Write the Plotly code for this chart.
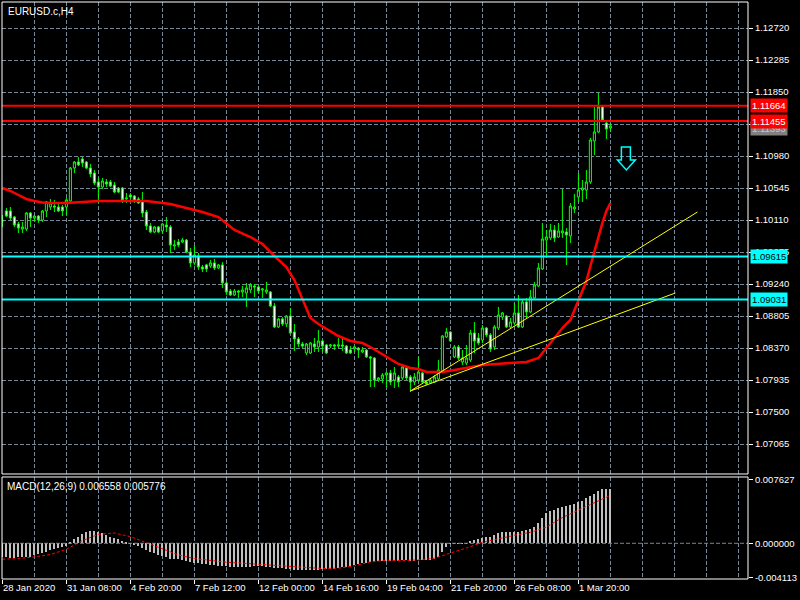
import plotly.graph_objects as go

symbol_title = "EURUSD.c,H4"
macd_title = "MACD(12,26,9) 0.006558 0.005776"

time_labels = ["28 Jan 2020", "31 Jan 08:00", "4 Feb 20:00", "7 Feb 12:00", "12 Feb 00:00",
               "14 Feb 16:00", "19 Feb 04:00", "21 Feb 20:00", "26 Feb 08:00", "1 Mar 20:00"]
label_bars = [0, 16, 32, 48, 64, 80, 96, 112, 128, 144]

price_ticks = [1.12720, 1.12285, 1.11850, 1.11415, 1.10980, 1.10545, 1.10110, 1.09675,
               1.09240, 1.08805, 1.08370, 1.07935, 1.07500, 1.07065]

opens = [
    1.10110, 1.10233, 1.10233, 1.10151, 1.10056, 1.09988, 1.09988, 1.10205, 1.10137, 1.10164,
    1.10110, 1.10233, 1.10287, 1.10300, 1.10287, 1.10287, 1.10287, 1.10369, 1.10817, 1.10899,
    1.10940, 1.10899, 1.10817, 1.10749, 1.10627, 1.10559, 1.10627, 1.10627, 1.10586, 1.10545,
    1.10545, 1.10396, 1.10450, 1.10436, 1.10396, 1.10369, 1.10219, 1.10029, 1.09947, 1.10015,
    1.09961, 1.10042, 1.10015, 1.09757, 1.09811, 1.09811, 1.09838, 1.09675, 1.09526, 1.09621,
    1.09471, 1.09499, 1.09485, 1.09526, 1.09458, 1.09499, 1.09254, 1.09145, 1.09091, 1.09145,
    1.09132, 1.09118, 1.09159, 1.09213, 1.09200, 1.09159, 1.09132, 1.09132, 1.08941, 1.08656,
    1.08765, 1.08697, 1.08805, 1.08588, 1.08493, 1.08425, 1.08302, 1.08302, 1.08425, 1.08384,
    1.08465, 1.08411, 1.08397, 1.08411, 1.08397, 1.08411, 1.08397, 1.08343, 1.08357, 1.08370,
    1.08316, 1.08343, 1.08248, 1.08234, 1.07935, 1.07949, 1.08003, 1.08030, 1.07935, 1.07976,
    1.07963, 1.08098, 1.07976, 1.07908, 1.07935, 1.08030, 1.07908, 1.07895, 1.07908, 1.07949,
    1.08058, 1.08520, 1.08588, 1.08248, 1.08384, 1.08180, 1.08166, 1.08207, 1.08574, 1.08506,
    1.08479, 1.08642, 1.08547, 1.08384, 1.08642, 1.08792, 1.08805, 1.08656, 1.08710, 1.08846,
    1.08656, 1.08996, 1.08860, 1.09050, 1.09213, 1.09444, 1.09838, 1.09866, 1.09974, 1.09879,
    1.09934, 1.09947, 1.09893, 1.10260, 1.10423, 1.10518, 1.10518, 1.10627, 1.11184, 1.11307,
    1.11646, 1.11429, 1.11361]

highs = [
    1.10178, 1.10273, 1.10287, 1.10164, 1.10083, 1.10083, 1.10219, 1.10219, 1.10178, 1.10178,
    1.10246, 1.10369, 1.10396, 1.10382, 1.10328, 1.10314, 1.10409, 1.10831, 1.10912, 1.10967,
    1.10967, 1.10912, 1.10872, 1.10790, 1.10681, 1.10681, 1.10668, 1.10654, 1.10627, 1.10559,
    1.10559, 1.10477, 1.10477, 1.10450, 1.10423, 1.10491, 1.10246, 1.10070, 1.10029, 1.10029,
    1.10070, 1.10151, 1.10042, 1.09838, 1.09852, 1.09866, 1.09852, 1.09730, 1.09770, 1.09662,
    1.09499, 1.09512, 1.09567, 1.09580, 1.09512, 1.09539, 1.09268, 1.09172, 1.09172, 1.09159,
    1.09213, 1.09254, 1.09254, 1.09240, 1.09213, 1.09186, 1.09268, 1.09145, 1.08982, 1.08778,
    1.08792, 1.08819, 1.08914, 1.08697, 1.08520, 1.08452, 1.08438, 1.08452, 1.08506, 1.08615,
    1.08479, 1.08425, 1.08425, 1.08425, 1.08506, 1.08493, 1.08411, 1.08397, 1.08397, 1.08384,
    1.08384, 1.08357, 1.08262, 1.08248, 1.07976, 1.08030, 1.08044, 1.08071, 1.08112, 1.08003,
    1.08126, 1.08126, 1.08003, 1.08030, 1.08248, 1.08071, 1.07935, 1.07963, 1.08003, 1.08207,
    1.08547, 1.08642, 1.08601, 1.08411, 1.08411, 1.08343, 1.08411, 1.08615, 1.08724, 1.08574,
    1.08683, 1.08656, 1.08574, 1.08683, 1.08928, 1.08860, 1.08819, 1.08778, 1.08982, 1.09091,
    1.09023, 1.09050, 1.09159, 1.09268, 1.09526, 1.10070, 1.09974, 1.10056, 1.10042, 1.10070,
    1.10532, 1.10001, 1.10341, 1.10464, 1.10749, 1.10654, 1.10790, 1.11225, 1.11646, 1.11837,
    1.11674, 1.11457, 1.11429]

lows = [
    1.10015, 1.10151, 1.10110, 1.10015, 1.09934, 1.09934, 1.09961, 1.10015, 1.10097, 1.10070,
    1.10083, 1.10151, 1.10246, 1.10219, 1.10219, 1.10164, 1.10178, 1.10355, 1.10749, 1.10844,
    1.10831, 1.10804, 1.10695, 1.10586, 1.10341, 1.10532, 1.10559, 1.10559, 1.10477, 1.10477,
    1.10341, 1.10341, 1.10382, 1.10341, 1.10328, 1.10151, 1.09974, 1.09934, 1.09934, 1.09934,
    1.09934, 1.09947, 1.09662, 1.09703, 1.09743, 1.09798, 1.09662, 1.09471, 1.09499, 1.09431,
    1.09403, 1.09403, 1.09458, 1.09431, 1.09444, 1.09186, 1.09091, 1.09077, 1.09077, 1.09050,
    1.09064, 1.08928, 1.09118, 1.09064, 1.09118, 1.09050, 1.09104, 1.08928, 1.08642, 1.08642,
    1.08669, 1.08656, 1.08561, 1.08330, 1.08384, 1.08370, 1.08275, 1.08289, 1.08316, 1.08316,
    1.08316, 1.08289, 1.08370, 1.08343, 1.08370, 1.08330, 1.08289, 1.08289, 1.08316, 1.08234,
    1.08302, 1.08234, 1.07840, 1.07840, 1.07908, 1.07895, 1.07840, 1.07867, 1.07827, 1.07840,
    1.07935, 1.07935, 1.07772, 1.07867, 1.07908, 1.07895, 1.07867, 1.07881, 1.07895, 1.07922,
    1.08044, 1.08506, 1.08452, 1.08234, 1.08207, 1.08139, 1.08139, 1.08180, 1.08302, 1.08411,
    1.08438, 1.08520, 1.08316, 1.08343, 1.08615, 1.08751, 1.08642, 1.08642, 1.08683, 1.08642,
    1.08642, 1.08778, 1.08846, 1.09023, 1.09200, 1.09431, 1.09634, 1.09838, 1.09811, 1.09866,
    1.09866, 1.09499, 1.09798, 1.10205, 1.10355, 1.10355, 1.10396, 1.10600, 1.10994, 1.11293,
    1.11443, 1.11212, 1.11307]

closes = [
    1.10097, 1.10164, 1.10137, 1.10042, 1.10001, 1.10015, 1.10205, 1.10137, 1.10164, 1.10110,
    1.10233, 1.10355, 1.10341, 1.10287, 1.10233, 1.10233, 1.10382, 1.10817, 1.10899, 1.10858,
    1.10885, 1.10817, 1.10736, 1.10613, 1.10559, 1.10640, 1.10600, 1.10572, 1.10491, 1.10491,
    1.10382, 1.10409, 1.10423, 1.10369, 1.10341, 1.10205, 1.10029, 1.09947, 1.10015, 1.09947,
    1.10056, 1.10015, 1.09770, 1.09770, 1.09770, 1.09838, 1.09675, 1.09526, 1.09634, 1.09471,
    1.09444, 1.09444, 1.09526, 1.09458, 1.09499, 1.09254, 1.09132, 1.09091, 1.09145, 1.09132,
    1.09159, 1.09186, 1.09227, 1.09200, 1.09145, 1.09172, 1.09159, 1.08941, 1.08656, 1.08765,
    1.08697, 1.08805, 1.08574, 1.08493, 1.08425, 1.08397, 1.08425, 1.08438, 1.08384, 1.08465,
    1.08397, 1.08302, 1.08411, 1.08397, 1.08411, 1.08397, 1.08302, 1.08302, 1.08384, 1.08343,
    1.08343, 1.08248, 1.08234, 1.07935, 1.07963, 1.08003, 1.08030, 1.07908, 1.08030, 1.07908,
    1.08112, 1.07963, 1.07908, 1.07976, 1.08044, 1.07908, 1.07881, 1.07935, 1.07976, 1.08071,
    1.08533, 1.08588, 1.08465, 1.08384, 1.08234, 1.08234, 1.08234, 1.08574, 1.08465, 1.08438,
    1.08642, 1.08547, 1.08357, 1.08656, 1.08819, 1.08846, 1.08656, 1.08724, 1.08846, 1.08656,
    1.08996, 1.08860, 1.09064, 1.09227, 1.09458, 1.09852, 1.09879, 1.09974, 1.09866, 1.09961,
    1.09961, 1.09907, 1.10300, 1.10287, 1.10518, 1.10545, 1.10627, 1.11198, 1.11307, 1.11646,
    1.11470, 1.11347, 1.11388]

ma_bars = [0, 2, 4, 6, 8, 10, 12, 16, 20, 24, 28, 32, 36, 38, 40, 42, 44, 46, 48, 50,
           54, 58, 62, 65, 68, 71, 73, 75, 77, 79, 81, 84, 87, 90, 92, 94, 97, 99, 102, 104,
           106, 110, 113, 117, 120, 127, 131, 134, 137, 140, 142, 143, 144, 145, 146, 147, 148, 149, 150,
           151, 152]
ma_values = [1.10545, 1.10505, 1.10450, 1.10396, 1.10369, 1.10348, 1.10341, 1.10341, 1.10355, 1.10369,
             1.10369, 1.10369, 1.10369, 1.10355, 1.10341, 1.10328, 1.10300, 1.10273, 1.10246, 1.10219,
             1.10151, 1.09974, 1.09879, 1.09784, 1.09621, 1.09471, 1.09295, 1.09023, 1.08778, 1.08697,
             1.08629, 1.08533, 1.08465, 1.08438, 1.08384, 1.08316, 1.08221, 1.08153, 1.08098, 1.08085,
             1.08044, 1.08044, 1.08071, 1.08112, 1.08139, 1.08166, 1.08180, 1.08234, 1.08438, 1.08642,
             1.08751, 1.08887, 1.09036, 1.09145, 1.09281, 1.09485, 1.09675, 1.09893, 1.10070,
             1.10233, 1.10341]

macd_values = [
    -0.00168, -0.00168, -0.00172, -0.00172, -0.00168, -0.00168, -0.00168, -0.00160, -0.00144, -0.00128,
    -0.00120, -0.00100, -0.00080, -0.00072, -0.00060, -0.00048, -0.00032, 0.00008, 0.00048, 0.00080,
    0.00112, 0.00136, 0.00148, 0.00148, 0.00140, 0.00120, 0.00096, 0.00072, 0.00060, 0.00048,
    0.00032, 0.00020, -0.00002, -0.00016, -0.00032, -0.00056, -0.00080, -0.00104, -0.00120, -0.00140,
    -0.00152, -0.00168, -0.00184, -0.00192, -0.00192, -0.00200, -0.00208, -0.00224, -0.00232, -0.00240,
    -0.00248, -0.00252, -0.00260, -0.00264, -0.00268, -0.00272, -0.00276, -0.00280, -0.00284, -0.00284,
    -0.00284, -0.00280, -0.00280, -0.00276, -0.00276, -0.00276, -0.00280, -0.00288, -0.00296, -0.00300,
    -0.00300, -0.00304, -0.00312, -0.00320, -0.00324, -0.00324, -0.00320, -0.00320, -0.00320, -0.00316,
    -0.00312, -0.00312, -0.00308, -0.00304, -0.00296, -0.00288, -0.00280, -0.00272, -0.00260, -0.00248,
    -0.00240, -0.00232, -0.00224, -0.00216, -0.00212, -0.00208, -0.00208, -0.00208, -0.00208, -0.00208,
    -0.00204, -0.00204, -0.00208, -0.00208, -0.00204, -0.00200, -0.00200, -0.00200, -0.00192, -0.00168,
    -0.00100, -0.00048, -0.00008, 0.00002, 0.00002, -0.00004, 0.00002, 0.00028, 0.00040, 0.00048,
    0.00068, 0.00080, 0.00080, 0.00100, 0.00120, 0.00132, 0.00132, 0.00136, 0.00140, 0.00140,
    0.00152, 0.00160, 0.00176, 0.00200, 0.00240, 0.00308, 0.00368, 0.00384, 0.00400, 0.00428,
    0.00440, 0.00448, 0.00464, 0.00472, 0.00500, 0.00512, 0.00540, 0.00568, 0.00590, 0.00630,
    0.00650, 0.00654, 0.006558]

signal_bars = list(range(0, 153, 4))
signal_values = [-0.00192, -0.00184, -0.00164, -0.00136, -0.00072, 0.00032, 0.00108, 0.00124, 0.00080, 0.00008,
                 -0.00072, -0.00140, -0.00184, -0.00208, -0.00228, -0.00240, -0.00252, -0.00264, -0.00272, -0.00288,
                 -0.00304, -0.00300, -0.00272, -0.00224, -0.00204, -0.00208, -0.00200, -0.00180, -0.00120, -0.00056,
                 0.00012, 0.00056, 0.00096, 0.00132, 0.00195, 0.00310, 0.00400, 0.00490, 0.005776]

macd_ticks = [0.007627, 0.0, -0.004113]
macd_ticktext = ["0.007627", "0.000000", "-0.004113"]

red_levels = [1.11664, 1.11455]
cyan_levels = [1.09615, 1.09031]
bid_price = 1.11393

trend_a_bars = [102, 168.25]
trend_a_prices = [1.07786, 1.09118]
trend_b_bars = [102, 173.75]
trend_b_prices = [1.07786, 1.10219]

arrow_bars = [154.75, 157.0, 157.0, 158.25, 156.0, 153.75, 154.75]
arrow_prices = [1.11103, 1.11103, 1.10926, 1.10926, 1.10790, 1.10926, 1.10926]

FONT = "Liberation Sans"
FS = 9.5
GRID = "#778899"
DASH = "4px,2px"
MAIN_DOM = [0.182, 1.0]
MACD_DOM = [0.0, 0.1768]
XR = [-0.1, 186.4]

bars = list(range(len(opens)))
fig = go.Figure()

fig.add_trace(go.Candlestick(
    x=bars, open=opens, high=highs, low=lows, close=closes,
    increasing=dict(line=dict(color="#00FF00", width=1), fillcolor="#000000"),
    decreasing=dict(line=dict(color="#00FF00", width=1), fillcolor="#FFFFFF"),
    whiskerwidth=0, xaxis="x", yaxis="y", showlegend=False, hoverinfo="skip"))

fig.add_trace(go.Scatter(x=ma_bars, y=ma_values, mode="lines",
                         line=dict(color="#FF0000", width=2.5), xaxis="x", yaxis="y",
                         showlegend=False, hoverinfo="skip"))

for bx, py in [(trend_a_bars, trend_a_prices), (trend_b_bars, trend_b_prices)]:
    fig.add_trace(go.Scatter(x=bx, y=py, mode="lines", line=dict(color="#FFFF00", width=1),
                             xaxis="x", yaxis="y", showlegend=False, hoverinfo="skip"))

fig.add_trace(go.Bar(x=bars, y=macd_values, width=0.3, xaxis="x2", yaxis="y2",
                     marker=dict(color="#C0C0C0", line=dict(width=0)),
                     showlegend=False, hoverinfo="skip"))
fig.add_trace(go.Scatter(x=signal_bars, y=signal_values, mode="lines",
                         line=dict(color="#FF0000", width=1, dash="3px,2px"),
                         xaxis="x2", yaxis="y2", showlegend=False, hoverinfo="skip"))

shapes = []
for lv in red_levels:
    shapes.append(dict(type="line", xref="paper", x0=0, x1=1, yref="y", y0=lv, y1=lv,
                       line=dict(color="#FF0000", width=2)))
for lv in cyan_levels:
    shapes.append(dict(type="line", xref="paper", x0=0, x1=1, yref="y", y0=lv, y1=lv,
                       line=dict(color="#00FFFF", width=2)))
shapes.append(dict(type="line", xref="paper", x0=0, x1=1, yref="y2", y0=0, y1=0,
                   line=dict(color=GRID, width=1, dash=DASH)))
path = "M " + " L ".join(f"{b},{p}" for b, p in zip(arrow_bars, arrow_prices)) + " Z"
shapes.append(dict(type="path", xref="x", yref="y", path=path,
                   line=dict(color="#00FFFF", width=1.5), fillcolor="rgba(0,0,0,0)"))
for dom in (MAIN_DOM, MACD_DOM):
    shapes.append(dict(type="rect", xref="paper", yref="paper", x0=0, x1=1, y0=dom[0], y1=dom[1],
                       line=dict(color="#FFFFFF", width=1), layer="above"))

annotations = [
    dict(text=symbol_title, xref="paper", yref="paper", x=0, y=1, xanchor="left", yanchor="top",
         xshift=4, yshift=-2, showarrow=False, font=dict(family=FONT, size=FS + 0.5, color="#FFFFFF")),
    dict(text=macd_title, xref="paper", yref="paper", x=0, y=MACD_DOM[1], xanchor="left",
         yanchor="top", xshift=3, yshift=-2, showarrow=False,
         font=dict(family=FONT, size=FS + 0.5, color="#FFFFFF")),
]
label_specs = [(bid_price, "#808080", "#C8C8C8", -3)]
label_specs += [(lv, "#FF0000", "#FFFFFF", 0) for lv in red_levels]
label_specs += [(lv, "#00FFFF", "#000000", 0) for lv in cyan_levels]
for lv, bg, fg, ys in label_specs:
    annotations.append(dict(text=f"{lv:.5f}", xref="paper", yref="y", x=1, y=lv,
                            xanchor="left", yanchor="middle", xshift=2, yshift=ys, showarrow=False,
                            bgcolor=bg, borderpad=1,
                            font=dict(family=FONT, size=FS, color=fg)))

price_ticktext = ["" if t == 1.11415 else f"{t:.5f}" for t in price_ticks]

fig.update_layout(
    width=800, height=600,
    margin=dict(l=2, r=52, t=2, b=21, autoexpand=False),
    paper_bgcolor="#000000", plot_bgcolor="#000000",
    font=dict(family=FONT, size=FS, color="#FFFFFF"),
    bargap=0, boxgap=0.25,
    shapes=shapes, annotations=annotations,
    xaxis=dict(domain=[0, 1], anchor="y", range=XR, showticklabels=False, tickmode="linear",
               tick0=0, dtick=8, ticks="", showgrid=True, gridcolor=GRID, griddash=DASH,
               gridwidth=1, zeroline=False, showline=False, automargin=False,
               rangeslider=dict(visible=False)),
    xaxis2=dict(domain=[0, 1], anchor="y2", range=XR, tickmode="array", tickvals=label_bars,
                ticktext=time_labels, ticks="outside", ticklen=4, tickcolor="#FFFFFF",
                tickangle=0, automargin=False,
                ticklabelposition="outside right", showgrid=True, gridcolor=GRID,
                griddash=DASH, zeroline=False, showline=False,
                minor=dict(tickmode="linear", tick0=0, dtick=8, showgrid=True,
                           gridcolor=GRID, griddash=DASH, ticks=""),
                tickfont=dict(family=FONT, size=FS, color="#FFFFFF")),
    yaxis=dict(domain=MAIN_DOM, anchor="x", side="right", range=[1.066574, 1.130738],
               tickmode="array", tickvals=price_ticks, ticktext=price_ticktext,
               ticks="outside", ticklen=4, tickcolor="#FFFFFF", showgrid=True, gridcolor=GRID,
               griddash=DASH, zeroline=False, showline=False, automargin=False,
               tickfont=dict(family=FONT, size=FS, color="#FFFFFF")),
    yaxis2=dict(domain=MACD_DOM, anchor="x2", side="right", range=[-0.004302, 0.007989],
                tickmode="array", tickvals=macd_ticks, ticktext=macd_ticktext,
                ticks="outside", ticklen=4, tickcolor="#FFFFFF", showgrid=False,
                zeroline=False, showline=False, automargin=False,
                tickfont=dict(family=FONT, size=FS, color="#FFFFFF")),
)

fig.write_html("out.html", config={"displayModeBar": False},
               post_script="document.body.style.margin='0';")
